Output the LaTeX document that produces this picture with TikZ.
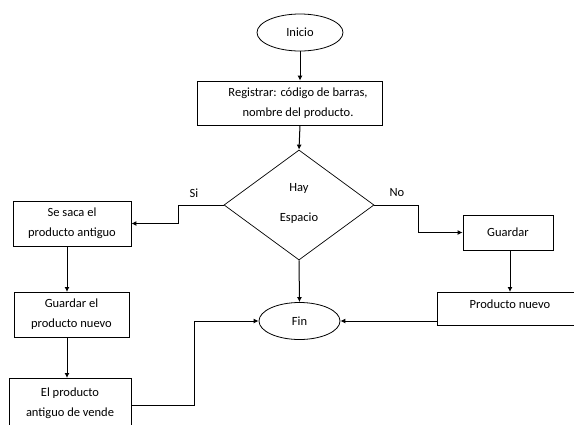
\documentclass[tikz,border=0pt]{standalone}
\usepackage{fontspec}
\setmainfont{Carlito}
\usetikzlibrary{arrows.meta,shapes.geometric}
\begin{document}
\begin{tikzpicture}[x=1pt,y=-1pt,
  box/.style={draw, line width=0.8pt, inner sep=0pt, align=center, font=\fontsize{12.5}{20}\selectfont},
  oval/.style={draw, ellipse, line width=0.8pt, inner sep=0pt, font=\fontsize{12.5}{20}\selectfont},
  lbl/.style={font=\fontsize{12.5}{20}\selectfont, align=center},
  arr/.style={line width=1pt, -{Latex[length=5pt,width=5pt]}}]
\useasboundingbox (0,0) rectangle (574,424);
\clip (0,0) rectangle (574,424);
\node[oval, minimum width=86pt, minimum height=37pt] (inicio) at (300,32.5) {Inicio};
\node[box, minimum width=185pt, minimum height=44pt] (reg) at (289.5,103) {};
\node[lbl] (regtxt) at (298,103) {Registrar: código de barras,\\nombre del producto.};
\node[draw, diamond, line width=0.7pt, minimum width=150pt, minimum height=110pt, inner sep=0pt, aspect=1.36] (dec) at (299,205) {};
\node[lbl] (hay) at (299,188) {Hay};
\node[lbl] (esp) at (299,218) {Espacio};
\node[box, minimum width=118pt, minimum height=45pt] (saca) at (72,223.5) {Se saca el\\producto antiguo};
\node[box, minimum width=115pt, minimum height=45pt] (guael) at (71.5,314.5) {Guardar el\\producto nuevo};
\node[box, minimum width=122pt, minimum height=50pt, anchor=north] (vende) at (70,378) {El producto\\antiguo de vende};
\node[oval, minimum width=81pt, minimum height=37pt] (fin) at (299.5,321) {Fin};
\node[box, minimum width=90pt, minimum height=35pt] (guardar) at (508,232.5) {Guardar};
\node[draw, line width=0.8pt, minimum width=140pt, minimum height=33pt, anchor=north west, inner sep=0pt] (nuevo) at (437,292) {};
\node[lbl] (nuevotxt) at (510,304) {Producto nuevo};
\node[lbl] (si) at (194,193) {Si};
\node[lbl] (no) at (397,193) {No};
\coordinate (c1) at (178,0);
\coordinate (c2) at (418,0);
\coordinate (c3) at (194,0);
\draw[arr] (inicio.south) -- (inicio.south |- reg.north);
\draw[arr] (inicio.south |- reg.south) -- (dec.north);
\draw[arr] (dec.west) -| (c1 |- saca.east) -- (saca.east);
\draw[arr] (dec.east) -| (c2 |- guardar.west) -- (guardar.west);
\draw[arr] (dec.south) -- (fin.north);
\draw[arr] (67,246) -- (67,292);
\draw[arr] (67,337) -- (67,378);
\draw[arr] (vende.east |- 0,405) -| (c3 |- fin.west) -- (fin.west);
\draw[arr] (510,250) -- (510,292);
\draw[arr] (nuevo.west |- fin.east) -- (fin.east);
\end{tikzpicture}
\end{document}
